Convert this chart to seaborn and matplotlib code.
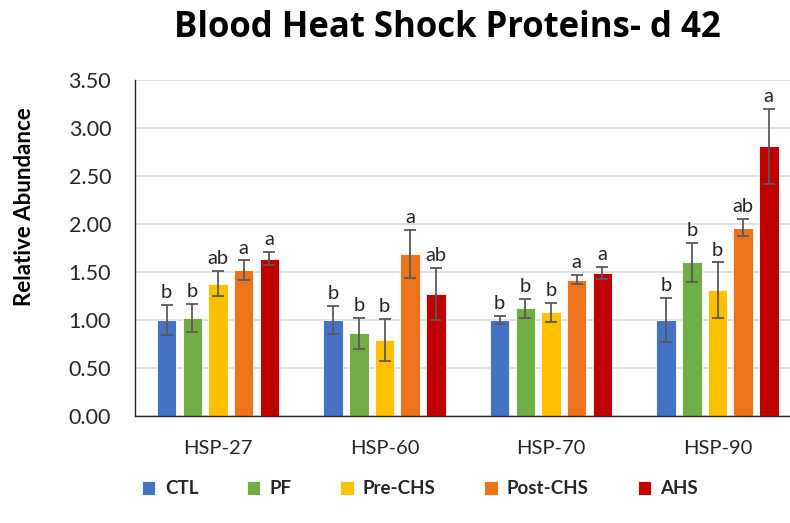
import matplotlib
matplotlib.use("Agg")
import matplotlib.pyplot as plt
import seaborn as sns
import pandas as pd
import numpy as np

proteins = ["HSP-27", "HSP-60", "HSP-70", "HSP-90"]
groups = ["CTL", "PF", "Pre-CHS", "Post-CHS", "AHS"]
ctl = [1.00, 1.00, 1.00, 1.00]
pf = [1.02, 0.86, 1.12, 1.60]
pre_chs = [1.38, 0.79, 1.08, 1.31]
post_chs = [1.52, 1.69, 1.42, 1.96]
ahs = [1.64, 1.27, 1.49, 2.81]
err_ctl = [0.16, 0.15, 0.04, 0.23]
err_pf = [0.15, 0.16, 0.10, 0.20]
err_pre = [0.13, 0.22, 0.10, 0.29]
err_post = [0.10, 0.25, 0.05, 0.09]
err_ahs = [0.07, 0.27, 0.06, 0.39]
let_ctl = ["b", "b", "b", "b"]
let_pf = ["b", "b", "b", "b"]
let_pre = ["ab", "b", "b", "b"]
let_post = ["a", "a", "a", "ab"]
let_ahs = ["a", "ab", "a", "a"]
colors = ["#4472C4", "#70AD47", "#FFC000", "#EE741C", "#C00000"]

vals = [ctl, pf, pre_chs, post_chs, ahs]
errs = [err_ctl, err_pf, err_pre, err_post, err_ahs]
lets = [let_ctl, let_pf, let_pre, let_post, let_ahs]

rows = []
for g, v, e, l in zip(groups, vals, errs, lets):
    for p, vi, ei, li in zip(proteins, v, e, l):
        rows.append(dict(protein=p, group=g, value=vi, err=ei, letter=li))
df = pd.DataFrame(rows)

sns.set_theme(style="white")
plt.rcParams['font.family'] = ['Lato', 'DejaVu Sans']

fig = plt.figure(figsize=(7.9, 5.23), dpi=100)
ax = fig.add_axes([134.75/790, 1-416/523, 666/790, 336/523])

sns.barplot(data=df, x="protein", y="value", hue="group", order=proteins,
            hue_order=groups, palette=colors, width=0.77, gap=0.24,
            errorbar=None, ax=ax, legend=True, edgecolor="white", linewidth=0.6,
            saturation=1)

# error bars and letters from the bar patches
bars = [p for p in ax.patches if p.get_height() > 0]
for i, g in enumerate(groups):
    for j, p in enumerate(proteins):
        r = df[(df.group == g) & (df.protein == p)].iloc[0]
        bar = bars[i * len(proteins) + j]
        x = bar.get_x() + bar.get_width() / 2
        ax.errorbar(x, r.value, yerr=r.err, color="#595959", capsize=4.5,
                    elinewidth=1.3, capthick=1.3, zorder=5)
        ax.text(x, r.value + r.err + 0.04, r.letter, ha="center", va="bottom",
                fontsize=14.5, color="#262626")

ax.set_ylim(0, 3.5)
ax.set_yticks(np.arange(0, 3.51, 0.5))
ax.set_yticklabels([f"{t:.2f}" for t in np.arange(0, 3.51, 0.5)], fontsize=15.5, color="#262626")
ax.tick_params(axis="x", labelsize=14.5, colors="#262626", length=0, pad=17)
ax.tick_params(axis="y", length=0, pad=17)
ax.set_xlim(-0.5, 3.5)
ax.yaxis.grid(True, color="#D9D9D9", linewidth=1.1)
ax.set_axisbelow(True)
for s in ["top", "right"]:
    ax.spines[s].set_visible(False)
ax.spines["left"].set_color("#262626")
ax.spines["bottom"].set_color("#262626")
ax.spines["left"].set_linewidth(1.0)
ax.spines["bottom"].set_linewidth(1.0)
ax.set_xlabel("")
ax.set_ylabel("")
fig.text(25/790, 1 - 207/523, "Relative Abundance", rotation=90, ha="center", va="center",
         fontsize=16, fontweight="bold", color="black")

fig.text(447/790, 1 - 28/523, "Blood Heat Shock Proteins- d 42", ha="center", va="center",
         fontsize=25, fontweight="bold", color="black", family=["Open Sans", "DejaVu Sans"])

leg = ax.legend(loc="center", bbox_to_anchor=(420/790, 1 - 489/523),
                bbox_transform=fig.transFigure, ncol=5, frameon=False,
                prop=dict(size=13.5, weight="bold"), handlelength=0.7, handleheight=0.7,
                columnspacing=2.6, handletextpad=0.5)

fig.savefig("out.png", dpi=100)
